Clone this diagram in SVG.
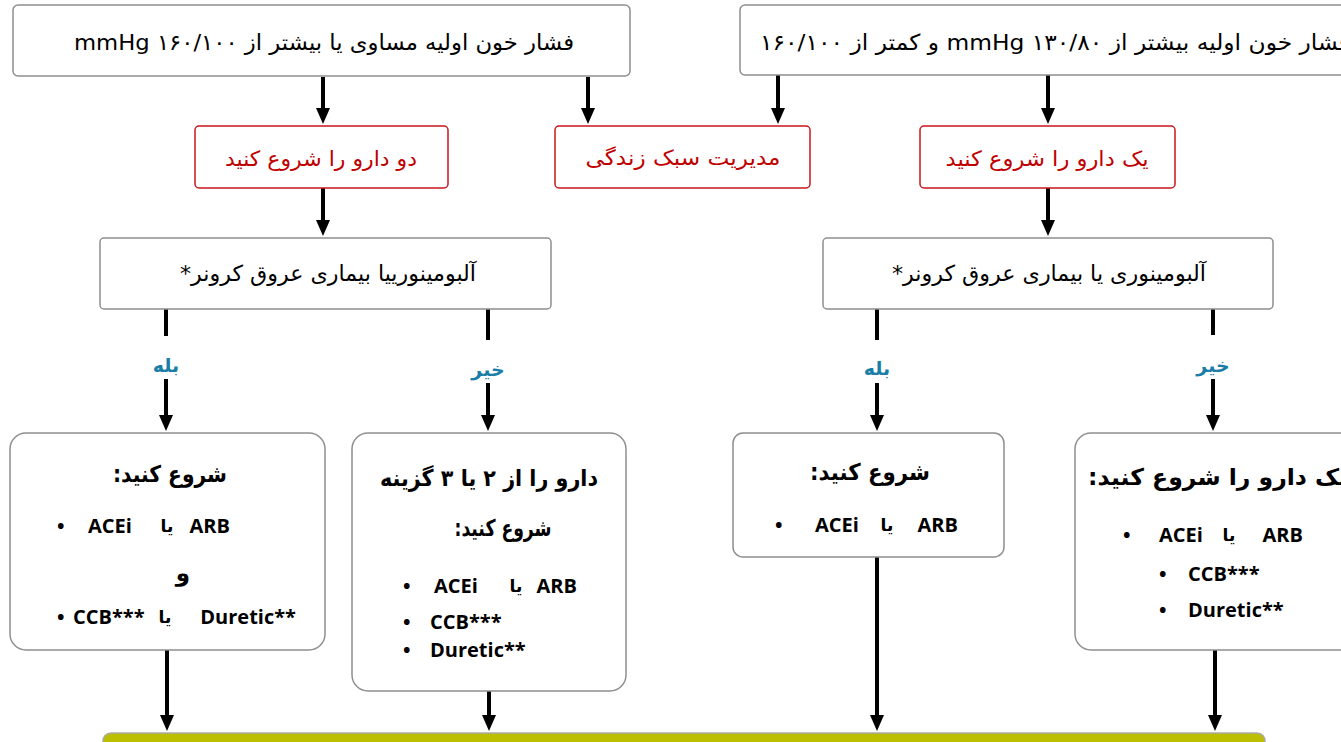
<svg xmlns="http://www.w3.org/2000/svg" width="1341" height="742" viewBox="0 0 1341 742">
<defs>
<marker id="ah" markerUnits="userSpaceOnUse" markerWidth="16" markerHeight="14" viewBox="0 0 16 14" refX="0" refY="7" orient="auto"><path d="M0,0 L16,7 L0,14 z" fill="#000"/></marker>
<style>
.box{fill:#fff;stroke:#8f8f8f;stroke-width:1.5}
.rbox{fill:#fff;stroke:#c8161d;stroke-width:1.5}
.fa{font-family:"DejaVu Sans",sans-serif;direction:rtl;text-anchor:middle}
.top{font-size:22px;fill:#000}
.red{font-size:21px;fill:#c00000}
.q{font-size:22px;fill:#000}
.lbl{font-size:19px;fill:#1a7ea6;font-weight:bold}
.hd{font-size:23px;fill:#000;font-weight:bold}
.ya{font-size:17px;fill:#000;font-weight:bold}
.en{font-family:"Open Sans",sans-serif;font-weight:700;font-size:20px;fill:#000}
.bul{font-family:"Open Sans",sans-serif;font-weight:700;font-size:20px;fill:#000}
.c line{stroke:#000;stroke-width:4}
.c line.a{marker-end:url(#ah)}
</style>
</defs>
<rect width="1341" height="742" fill="#fff"/>

<g class="c" id="connectors">
<line class="a" x1="323" y1="77" x2="323" y2="108"/>
<line class="a" x1="588" y1="77" x2="588" y2="108"/>
<line class="a" x1="778" y1="75" x2="778" y2="108"/>
<line class="a" x1="1048" y1="75" x2="1048" y2="108"/>
<line class="a" x1="323" y1="188" x2="323" y2="220"/>
<line class="a" x1="1048" y1="188" x2="1048" y2="220"/>
<line x1="166" y1="309" x2="166" y2="336"/>
<line class="a" x1="166" y1="379" x2="166" y2="415"/>
<line x1="488" y1="309" x2="488" y2="340"/>
<line class="a" x1="488" y1="383" x2="488" y2="415"/>
<line x1="877" y1="309" x2="877" y2="340"/>
<line class="a" x1="877" y1="383" x2="877" y2="415"/>
<line x1="1213" y1="309" x2="1213" y2="335"/>
<line class="a" x1="1213" y1="379" x2="1213" y2="415"/>
<line class="a" x1="167" y1="650" x2="167" y2="715"/>
<line class="a" x1="489" y1="691" x2="489" y2="715"/>
<line class="a" x1="877" y1="557" x2="877" y2="715"/>
<line class="a" x1="1215" y1="650" x2="1215" y2="715"/>
<text class="fa lbl" x="166" y="372">بله</text>
<text class="fa lbl" x="488" y="376">خیر</text>
<text class="fa lbl" x="877" y="375">بله</text>
<text class="fa lbl" x="1213" y="372">خیر</text>
</g>

<g id="n-top-left">
<rect class="box" x="13" y="5" width="617" height="71" rx="5"/>
<text class="fa top" x="324" y="50" textLength="500" lengthAdjust="spacingAndGlyphs">فشار خون اولیه مساوی یا بیشتر از ۱۶۰/۱۰۰ mmHg</text>
</g>
<g id="n-top-right">
<rect class="box" x="740" y="5" width="620" height="70" rx="5"/>
<text class="fa top" x="1055" y="50" textLength="590" lengthAdjust="spacingAndGlyphs">فشار خون اولیه بیشتر از ۱۳۰/۸۰ mmHg و کمتر از ۱۶۰/۱۰۰</text>
</g>

<g id="n-two-drugs">
<rect class="rbox" x="195" y="126" width="253" height="62" rx="4"/>
<text class="fa red" x="321" y="166" textLength="192" lengthAdjust="spacingAndGlyphs">دو دارو را شروع کنید</text>
</g>
<g id="n-lifestyle">
<rect class="rbox" x="555" y="126" width="255" height="62" rx="4"/>
<text class="fa red" x="683" y="165" textLength="195" lengthAdjust="spacingAndGlyphs">مدیریت سبک زندگی</text>
</g>
<g id="n-one-drug">
<rect class="rbox" x="920" y="126" width="255" height="62" rx="4"/>
<text class="fa red" x="1047" y="166" textLength="203" lengthAdjust="spacingAndGlyphs">یک دارو را شروع کنید</text>
</g>

<g id="n-q-left">
<rect class="box" x="100" y="238" width="451" height="71" rx="4"/>
<text class="fa q" x="328" y="281" textLength="296" lengthAdjust="spacingAndGlyphs">آلبومینورییا بیماری عروق کرونر*</text>
</g>
<g id="n-q-right">
<rect class="box" x="823" y="238" width="450" height="71" rx="4"/>
<text class="fa q" x="1049" y="281" textLength="314" lengthAdjust="spacingAndGlyphs">آلبومینوری یا بیماری عروق کرونر*</text>
</g>

<g id="n-a">
<rect class="box" x="10" y="433" width="315" height="217" rx="16"/>
<text class="fa hd" x="170" y="482" textLength="114" lengthAdjust="spacingAndGlyphs">شروع کنید:</text>
<text class="bul" x="57" y="533">•</text>
<text class="en" x="88" y="533">ACEi</text>
<text class="fa ya" x="167" y="532">یا</text>
<text class="en" x="230" y="533" text-anchor="end">ARB</text>
<text class="fa hd" x="183" y="581">و</text>
<text class="bul" x="57" y="624">•</text>
<text class="en" x="73" y="624">CCB***</text>
<text class="fa ya" x="165" y="623">یا</text>
<text class="en" x="296" y="624" text-anchor="end">Duretic**</text>
</g>

<g id="n-b">
<rect class="box" x="352" y="433" width="274" height="258" rx="16"/>
<text class="fa hd" x="489" y="486" textLength="218" lengthAdjust="spacingAndGlyphs">دارو را از ۲ یا ۳ گزینه</text>
<text class="fa hd" x="503" y="536" textLength="97" lengthAdjust="spacingAndGlyphs">شروع کنید:</text>
<text class="bul" x="403" y="593">•</text>
<text class="en" x="434" y="593">ACEi</text>
<text class="fa ya" x="516" y="592">یا</text>
<text class="en" x="577" y="593" text-anchor="end">ARB</text>
<text class="bul" x="403" y="629">•</text>
<text class="en" x="430" y="629">CCB***</text>
<text class="bul" x="403" y="657">•</text>
<text class="en" x="430" y="657">Duretic**</text>
</g>

<g id="n-c">
<rect class="box" x="733" y="433" width="271" height="124" rx="10"/>
<text class="fa hd" x="870" y="480" textLength="120" lengthAdjust="spacingAndGlyphs">شروع کنید:</text>
<text class="bul" x="775" y="532">•</text>
<text class="en" x="815" y="532">ACEi</text>
<text class="fa ya" x="887" y="531">یا</text>
<text class="en" x="958" y="532" text-anchor="end">ARB</text>
</g>

<g id="n-d">
<rect class="box" x="1075" y="433" width="290" height="217" rx="16"/>
<text class="fa hd" x="1218" y="485" textLength="260" lengthAdjust="spacingAndGlyphs">یک دارو را شروع کنید:</text>
<text class="bul" x="1123" y="542">•</text>
<text class="en" x="1159" y="542">ACEi</text>
<text class="fa ya" x="1229" y="541">یا</text>
<text class="en" x="1303" y="542" text-anchor="end">ARB</text>
<text class="bul" x="1159" y="581">•</text>
<text class="en" x="1188" y="581">CCB***</text>
<text class="bul" x="1159" y="617">•</text>
<text class="en" x="1188" y="617">Duretic**</text>
</g>

<g id="n-bottom">
<rect x="103" y="733" width="1162" height="30" rx="8" fill="#bcbf00" stroke="#a9a9a9" stroke-width="1.5"/>
</g>
</svg>
